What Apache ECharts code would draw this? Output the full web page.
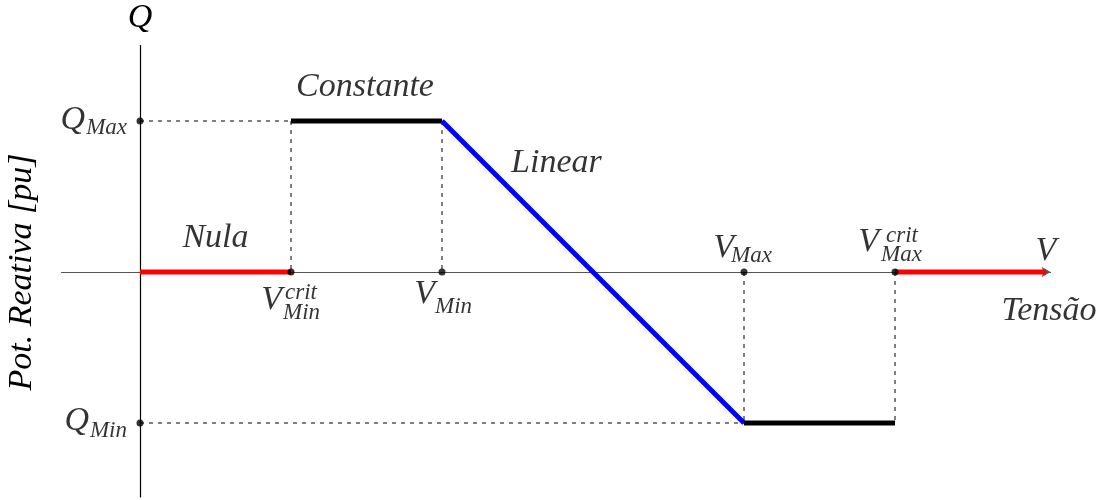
<!DOCTYPE html>
<html>
<head>
<meta charset="utf-8">
<script src="https://cdn.jsdelivr.net/npm/echarts@6/dist/echarts.min.js"></script>
<style>
  html, body { margin: 0; padding: 0; background: #fff; }
  #chart { width: 1104px; height: 500px; }
</style>
</head>
<body>
<div id="chart"></div>
<script>
// Voltage ticks on the V axis (pu-scaled abscissa) and their label parts
const vTickValues = [1, 2, 4, 5];
const vTickSubs = ['Min', 'Min', 'Max', 'Max'];
const vTickSups = ['crit', '', '', 'crit'];

// Reactive power ticks on the Q axis
const qTickValues = [1, -1];
const qTickSubs = ['Max', 'Min'];

// Control-curve segments Q(V)
const nulaLow = [[0, 0], [1, 0]];
const constanteHigh = [[1, 1], [2, 1]];
const linearDrop = [[2, 1], [4, -1]];
const constanteLow = [[4, -1], [5, -1]];
const nulaHigh = [[5, 0], [6, 0]];

// Region names and where they sit
const regionNames = ['Nula', 'Constante', 'Linear'];
const regionAnchors = [[0.5, 0.225], [1.49, 1.225], [2.758, 0.72]];

// Axis captions
const axisCaptions = ['V', 'Tensão'];
const axisCaptionAnchors = [[6.0, 0.14], [6.02, -0.26]];
const yAxisTitle = 'Pot. Reativa [pu]';
const yAxisSymbol = 'Q';

const FONT = "'Liberation Serif', 'Times New Roman', serif";
const BIG = 34;
const SMALL = 23;

// Pixel layout of the tick label pieces: [dx, dy, align]
const vBaseLayout = [[-9, 28, 'right'], [-7, 22, 'right'], [-10, -24, 'right'], [-16, -30, 'right']];
const vSubLayout = [[-8, 41, 'left'], [-7, 34.5, 'left'], [-13, -16, 'left'], [-14, -17, 'left']];
const vSupLayout = [[-6, 21, 'left'], null, null, [-9, -36, 'left']];
const qBaseLayout = [[-55, -1, 'right'], [-51, -2, 'right']];
const qSubLayout = [[-13, 7, 'right'], [-13, 7.5, 'right']];

const chart = echarts.init(document.getElementById('chart'), null, { renderer: 'canvas' });

function segment(data, color, width, dashed, z) {
  return {
    type: 'line',
    data: data,
    symbol: 'none',
    silent: true,
    z: z,
    lineStyle: { color: color, width: width, type: dashed ? [4, 5] : 'solid', cap: 'butt' }
  };
}

function textSeries(points, texts, layouts, size, z) {
  const data = [];
  points.forEach((p, i) => {
    if (!texts[i] || !layouts[i]) return;
    const l = layouts[i];
    data.push({
      value: [p[0], p[1], texts[i]],
      label: { offset: [l[0], l[1]], align: l[2] }
    });
  });
  return {
    type: 'scatter',
    data: data,
    symbolSize: 1,
    silent: true,
    z: z,
    itemStyle: { color: 'rgba(0,0,0,0)' },
    label: {
      show: true,
      position: 'inside',
      verticalAlign: 'middle',
      formatter: (p) => p.value[2],
      fontFamily: FONT,
      fontStyle: 'italic',
      fontSize: size,
      color: '#000000',
      textBorderWidth: 0
    }
  };
}

const vPoints = vTickValues.map(v => [v, 0]);
const qPoints = qTickValues.map(q => [0, q]);
const qMax = qTickValues[0], qMin = qTickValues[1];

// Dashed projection lines from the curve corners to the axes
const guides = [
  [[0, qMax], [vTickValues[0], qMax]],
  [[vTickValues[0], qMax], [vTickValues[0], 0]],
  [[vTickValues[1], qMax], [vTickValues[1], 0]],
  [[0, qMin], [vTickValues[2], qMin]],
  [[vTickValues[2], 0], [vTickValues[2], qMin]],
  [[vTickValues[3], 0], [vTickValues[3], qMin]]
];

const series = [];
guides.forEach(g => series.push(segment(g, '#000', 1, true, 1)));
series.push(segment(nulaLow, '#ff0000', 5, false, 3));
series.push(segment(constanteHigh, '#000000', 5, false, 3));
series.push(segment(linearDrop, '#0000ff', 5, false, 3));
series.push(segment(constanteLow, '#000000', 5, false, 3));
series.push(segment(nulaHigh, '#ff0000', 5, false, 3));

// Tick dots
series.push({
  type: 'scatter',
  data: vPoints.concat(qPoints),
  symbol: 'circle',
  symbolSize: 7,
  silent: true,
  z: 5,
  itemStyle: { color: '#000' }
});

// Tick labels
series.push(textSeries(vPoints, vTickValues.map(() => 'V'), vBaseLayout, BIG, 6));
series.push(textSeries(vPoints, vTickSubs, vSubLayout, SMALL, 6));
series.push(textSeries(vPoints, vTickSups, vSupLayout, SMALL, 6));
series.push(textSeries(qPoints, qTickValues.map(() => 'Q'), qBaseLayout, BIG, 6));
series.push(textSeries(qPoints, qTickSubs, qSubLayout, SMALL, 6));

// Region names and axis captions
series.push(textSeries(regionAnchors, regionNames, regionNames.map(() => [0, 0, 'center']), BIG, 6));
series.push(textSeries(axisCaptionAnchors, axisCaptions, axisCaptions.map(() => [0, 0, 'center']), BIG, 6));

const option = {
  animation: false,
  backgroundColor: '#ffffff',
  grid: { left: 61.48, top: 45.5, width: 989.05, height: 451.49, containLabel: false },
  xAxis: {
    type: 'value',
    min: -0.52,
    max: 6.03,
    splitLine: { show: false },
    axisTick: { show: false },
    axisLabel: { show: false },
    axisLine: {
      show: true,
      onZero: true,
      symbol: ['none', 'arrow'],
      symbolSize: [8, 9],
      lineStyle: { color: '#555555', width: 1.2 }
    }
  },
  yAxis: {
    type: 'value',
    min: -1.49,
    max: 1.5,
    name: yAxisSymbol,
    nameLocation: 'end',
    nameGap: 27,
    nameTextStyle: {
      fontFamily: FONT, fontStyle: 'italic', fontSize: BIG, color: '#000',
      verticalAlign: 'middle', align: 'center'
    },
    splitLine: { show: false },
    axisTick: { show: false },
    axisLabel: { show: false },
    axisLine: { show: true, onZero: true, lineStyle: { color: '#000', width: 1.2 } }
  },
  graphic: [{
    type: 'text',
    x: 22,
    y: 272,
    rotation: Math.PI / 2,
    silent: true,
    style: {
      text: yAxisTitle,
      fontFamily: FONT,
      fontStyle: 'italic',
      fontSize: BIG,
      fill: '#000',
      align: 'center',
      verticalAlign: 'middle'
    }
  }],
  series: series
};

chart.setOption(option);
</script>
</body>
</html>
